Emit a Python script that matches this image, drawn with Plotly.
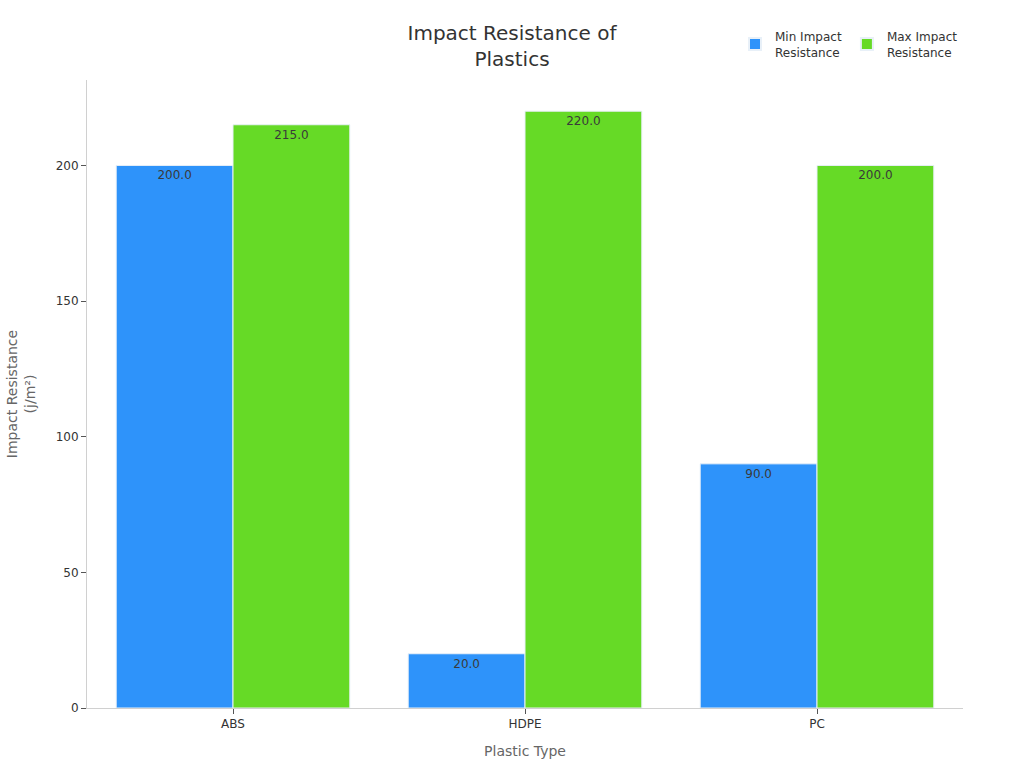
import plotly.graph_objects as go

categories = ["ABS", "HDPE", "PC"]
min_vals = [200, 20, 90]
max_vals = [215, 220, 200]
series_names = ["Min Impact<br>Resistance", "Max Impact<br>Resistance"]
colors = ["#2E93FA", "#66DA26"]

fig = go.Figure()
for name, vals, col in zip(series_names, [min_vals, max_vals], colors):
    fig.add_trace(go.Bar(
        x=categories, y=vals, name=name,
        marker=dict(color=col, line=dict(color="#e8f0f8", width=1)),
        text=[f"{v:.1f}" for v in vals],
        textposition="inside", insidetextanchor="end",
        textfont=dict(color="#3a3a3a", size=12),
        constraintext="none",
    ))

fig.update_layout(
    width=1024, height=768,
    font=dict(family="DejaVu Sans", color="#333333"),
    title=dict(text="Impact Resistance of<br>Plastics", x=0.5, xanchor="center",
               y=0.9477, yanchor="top", font=dict(size=20, color="#333333")),
    barmode="group", bargap=0.2, bargroupgap=0,
    plot_bgcolor="white", paper_bgcolor="white",
    margin=dict(l=87, r=61, t=80, b=60, autoexpand=False),
    legend=dict(orientation="h", x=1, xanchor="right", xref="paper",
                y=1 - 22 / 768, yanchor="top", yref="container",
                font=dict(size=12, color="#333333"), itemsizing="constant"),
    showlegend=True,
)
fig.update_xaxes(
    title=dict(text="Plastic Type", font=dict(size=14, color="#666666"), standoff=15),
    showline=True, linecolor="#d0d0d0", linewidth=1,
    ticks="outside", tickcolor="#555555", ticklen=5,
    tickfont=dict(size=12, color="#333333"), showgrid=False,
)
fig.update_yaxes(
    title=dict(text="Impact Resistance<br>(j/m²)", font=dict(size=14, color="#666666"), standoff=16),
    range=[0, 231.5], showline=True, linecolor="#d0d0d0", linewidth=1,
    ticks="outside", tickcolor="#555555", ticklen=5, tickvals=[0, 50, 100, 150, 200],
    tickfont=dict(size=12, color="#333333"), showgrid=False, zeroline=False,
)
fig.write_html("out.html")
